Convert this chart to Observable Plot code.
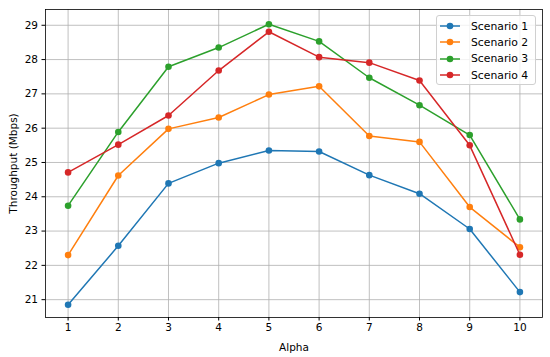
<!DOCTYPE html>
<html>
<head>
<meta charset="utf-8">
<script src="https://cdn.jsdelivr.net/npm/d3@7"></script>
<script src="https://cdn.jsdelivr.net/npm/@observablehq/plot@0.6"></script>
<style>
  html, body { margin: 0; padding: 0; background: #fff; }
  #wrap { position: relative; width: 550px; height: 357px; font-family: "DejaVu Sans", sans-serif; }
  #legend { position: absolute; left: 436px; top: 15px; width: 100px; height: 70px;
    border: 1px solid #d0d0d0; border-radius: 3px; background: rgba(255,255,255,0.8);
    font-size: 10.8px; color: #000; box-sizing: border-box; padding-top: 2px; }
  .row { display: flex; align-items: center; height: 16.3px; }
  .row svg { margin-left: 3px; margin-right: 11px; }
</style>
</head>
<body>
<div id="wrap"><div id="legend"></div></div>
<script>
const alpha = [1, 2, 3, 4, 5, 6, 7, 8, 9, 10];
const seriesNames = ["Scenario 1", "Scenario 2", "Scenario 3", "Scenario 4"];
const s1 = [20.85, 22.57, 24.39, 24.98, 25.35, 25.32, 24.63, 24.09, 23.06, 21.22];
const s2 = [22.30, 24.62, 25.98, 26.31, 26.98, 27.22, 25.77, 25.60, 23.70, 22.53];
const s3 = [23.74, 25.89, 27.79, 28.35, 29.03, 28.53, 27.47, 26.67, 25.80, 23.34];
const s4 = [24.71, 25.52, 26.37, 27.68, 28.81, 28.07, 27.91, 27.39, 25.50, 22.31];
const colors = ["#1f77b4", "#ff7f0e", "#2ca02c", "#d62728"];
const yTicks = [21, 22, 23, 24, 25, 26, 27, 28, 29];

const allSeries = [s1, s2, s3, s4];
const marks = [
  Plot.gridX(alpha, {stroke: "#b0b0b0", strokeOpacity: 1, strokeWidth: 0.8}),
  Plot.gridY(yTicks, {stroke: "#b0b0b0", strokeOpacity: 1, strokeWidth: 0.8})
];
allSeries.forEach((vals, i) => {
  const rows = alpha.map((a, j) => ({alpha: a, value: vals[j], series: seriesNames[i]}));
  marks.push(Plot.line(rows, {x: "alpha", y: "value", stroke: colors[i], strokeWidth: 1.5}));
  marks.push(Plot.dot(rows, {x: "alpha", y: "value", fill: colors[i], r: 3.3}));
});
marks.push(Plot.axisX(alpha, {tickSize: 3.5, tickPadding: 3, fontSize: 10.5, label: "Alpha",
  labelAnchor: "center", labelArrow: "none", labelOffset: 33}));
marks.push(Plot.axisY(yTicks, {tickSize: 3.5, tickPadding: 4, fontSize: 10.5, label: "Throughput (Mbps)",
  labelAnchor: "center", labelArrow: "none", labelOffset: 36}));
marks.push(Plot.frame({stroke: "#000", strokeWidth: 0.8}));

const chart = Plot.plot({
  width: 550, height: 357,
  marginLeft: 45, marginRight: 8, marginTop: 9, marginBottom: 40,
  style: {fontFamily: "DejaVu Sans, sans-serif", fontSize: "10.5px", color: "#000", background: "#fff", overflow: "visible"},
  x: {domain: [0.55, 10.45]},
  y: {domain: [20.48, 29.46]},
  marks
});
document.getElementById("wrap").prepend(chart);

const legend = document.getElementById("legend");
seriesNames.forEach((name, i) => {
  const row = document.createElement("div");
  row.className = "row";
  row.innerHTML = `<svg width="20" height="10"><line x1="0" y1="5" x2="20" y2="5" stroke="${colors[i]}" stroke-width="1.5"/><circle cx="10" cy="5" r="3.3" fill="${colors[i]}"/></svg><span>${name}</span>`;
  legend.appendChild(row);
});
</script>
</body>
</html>
